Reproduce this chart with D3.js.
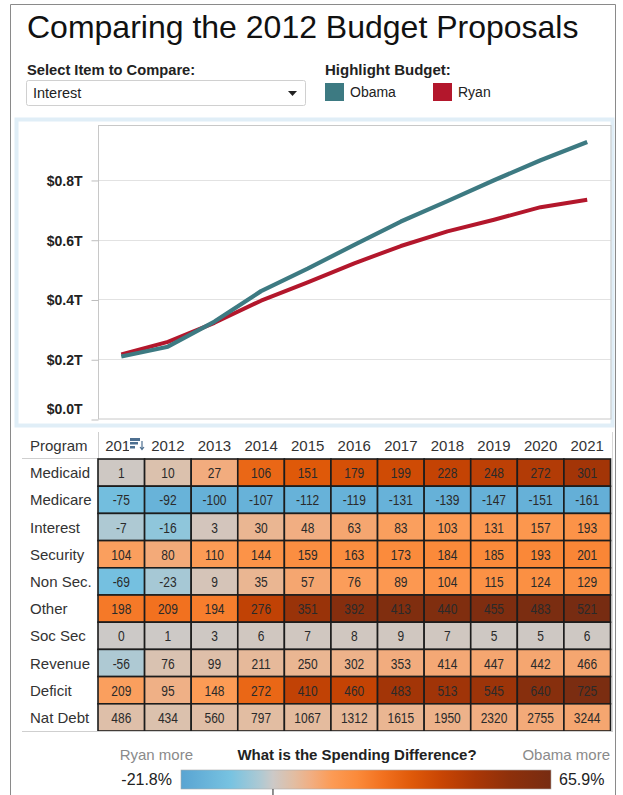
<!DOCTYPE html>
<html>
<head>
<meta charset="utf-8">
<script src="https://cdn.jsdelivr.net/npm/d3@7"></script>
<style>
  body { margin: 0; background: #fff; }
  svg { display: block; font-family: "Liberation Sans", Arial, sans-serif; }
</style>
</head>
<body>
<svg id="svg" width="623" height="795"></svg>
<script>
// data
var years = ["2011", "2012", "2013", "2014", "2015", "2016", "2017", "2018", "2019", "2020", "2021"];
var obama = [0.209, 0.242, 0.326, 0.428, 0.503, 0.583, 0.661, 0.729, 0.799, 0.866, 0.927];
var ryan = [0.216, 0.258, 0.322, 0.396, 0.457, 0.521, 0.579, 0.628, 0.667, 0.709, 0.734];
var yTicks = [0, 0.2, 0.4, 0.6, 0.8];

var programs = ["Medicaid", "Medicare", "Interest", "Security", "Non Sec.", "Other", "Soc Sec", "Revenue", "Deficit", "Nat Debt"];
var diffs = [
  [1, 10, 27, 106, 151, 179, 199, 228, 248, 272, 301],
  [-75, -92, -100, -107, -112, -119, -131, -139, -147, -151, -161],
  [-7, -16, 3, 30, 48, 63, 83, 103, 131, 157, 193],
  [104, 80, 110, 144, 159, 163, 173, 184, 185, 193, 201],
  [-69, -23, 9, 35, 57, 76, 89, 104, 115, 124, 129],
  [198, 209, 194, 276, 351, 392, 413, 440, 455, 483, 521],
  [0, 1, 3, 6, 7, 8, 9, 7, 5, 5, 6],
  [-56, 76, 99, 211, 250, 302, 353, 414, 447, 442, 466],
  [209, 95, 148, 272, 410, 460, 483, 513, 545, 640, 725],
  [486, 434, 560, 797, 1067, 1312, 1615, 1950, 2320, 2755, 3244]
];
// percent difference
var pcts = [
  [0.5, 3.5, 9.5, 29, 33, 36, 38, 41, 43, 46, 50],
  [-12, -16, -17, -16.5, -16.5, -16.5, -16.5, -17, -17, -17, -17.5],
  [-3, -7, 1.5, 7, 9, 11, 13, 14, 15, 15.5, 17],
  [13, 10, 14, 17, 18.5, 19, 19.5, 20, 20, 20.5, 21],
  [-11, -4, 2, 7, 11, 13.5, 15, 17, 17.5, 18, 18],
  [24, 26, 23, 42, 53, 60, 62, 62, 63, 64, 65.9],
  [0, 0.2, 0.5, 1, 1, 1, 1, 1, 0.5, 0.5, 0.5],
  [-3, 3, 4, 6, 7, 8, 9.5, 10.5, 11, 11, 11],
  [13, 8.5, 14, 29, 42, 41, 50, 51, 52, 59, 64],
  [4, 3.5, 4.5, 5, 5.5, 6, 7, 8, 9, 10, 11]
];
var pctMin = -21.8, pctMax = 65.9;

var svg = d3.select("#svg");

// outer frame
svg.append("path")
  .attr("d", "M10.5,795 V4.5 H615.5 V795")
  .attr("fill", "none").attr("stroke", "#8a8a8a");

// title
svg.append("text").attr("x", 27).attr("y", 38)
  .attr("font-size", 32).attr("fill", "#111")
  .text("Comparing the 2012 Budget Proposals");

// dropdown
svg.append("text").attr("x", 27).attr("y", 75)
  .attr("font-size", 15).attr("font-weight", "bold").attr("fill", "#222")
  .attr("transform", "translate(27,0) scale(0.98,1) translate(-27,0)")
  .text("Select Item to Compare:");
svg.append("rect").attr("x", 26.5).attr("y", 80.5).attr("width", 279).attr("height", 25)
  .attr("rx", 2).attr("fill", "#fff").attr("stroke", "#d0d0d0");
svg.append("text").attr("x", 33).attr("y", 98)
  .attr("font-size", 14.5).attr("fill", "#222").text("Interest");
svg.append("path").attr("d", "M288,91 h9 l-4.5,5 z").attr("fill", "#222");

// highlight legend
svg.append("text").attr("x", 325).attr("y", 75)
  .attr("font-size", 15).attr("font-weight", "bold").attr("fill", "#222")
  .text("Highlight Budget:");
var budgets = [
  { name: "Obama", color: "#3d7a82", x: 325 },
  { name: "Ryan", color: "#b3172c", x: 433 }
];
var bl = svg.selectAll(".bud").data(budgets).enter().append("g")
  .attr("transform", function (d) { return "translate(" + d.x + ",83)"; });
bl.append("rect").attr("width", 19).attr("height", 18).attr("fill", function (d) { return d.color; });
bl.append("text").attr("x", 25).attr("y", 14).attr("font-size", 14).attr("fill", "#222")
  .text(function (d) { return d.name; });

// chart panel
svg.append("rect").attr("x", 16.5).attr("y", 119.5).attr("width", 596).attr("height", 306)
  .attr("fill", "#fff").attr("stroke", "#e0eef7").attr("stroke-width", 4);

var xBand = d3.scaleBand().domain(years).range([98, 610.5]);
var yScale = d3.scaleLinear().domain([0, 0.984]).range([419, 125]);

// gridlines
svg.append("g").selectAll("line").data(yTicks.slice(1)).enter().append("line")
  .attr("x1", 98).attr("x2", 611)
  .attr("y1", function (d) { return Math.round(yScale(d)) + 0.5; })
  .attr("y2", function (d) { return Math.round(yScale(d)) + 0.5; })
  .attr("stroke", "#e2e2e2");

// plot frame
svg.append("rect").attr("x", 98.5).attr("y", 125.5).attr("width", 512.5).attr("height", 293.5)
  .attr("fill", "none").attr("stroke", "#c8c8c8");

// y axis
var yAxis = svg.append("g")
  .attr("transform", "translate(98.5,0.5)")
  .call(d3.axisLeft(yScale).tickValues(yTicks).tickSize(7).tickPadding(9)
    .tickFormat(function (d) { return "$" + d.toFixed(1) + "T"; }));
yAxis.select(".domain").remove();
yAxis.selectAll(".tick line").attr("stroke", "#bdbdbd");
yAxis.selectAll(".tick text")
  .attr("font-family", "'Liberation Sans', Arial, sans-serif")
  .attr("font-size", 14).attr("font-weight", "bold").attr("fill", "#222")
  .attr("dy", function (d) { return d === 0 ? "-0.4em" : "0.35em"; });

// lines
var lineGen = d3.line()
  .x(function (d, i) { return xBand(years[i]) + xBand.bandwidth() / 2; })
  .y(function (d) { return yScale(d); });
svg.append("path").datum(ryan).attr("d", lineGen)
  .attr("fill", "none").attr("stroke", "#b3172c").attr("stroke-width", 4).attr("stroke-linejoin", "round");
svg.append("path").datum(obama).attr("d", lineGen)
  .attr("fill", "none").attr("stroke", "#3d7a82").attr("stroke-width", 4.2).attr("stroke-linejoin", "round");

// table
var rowTop = 459, rowH = 27.2;
var yRow = d3.scaleBand().domain(programs).range([rowTop, rowTop + rowH * programs.length]);

var color = d3.scaleLinear()
  .domain([-21.8, -10, -3, 0, 5, 9, 14, 20, 26, 33, 40, 48, 56, 65.9])
  .range(["#59a4d2", "#78c3e1", "#aec9d3", "#ccc9c7", "#e2bda2", "#f1ae82", "#fc9b55", "#fb8a3a",
          "#f2711f", "#df5909", "#c84504", "#aa3706", "#8e300b", "#772c12"])
  .clamp(true);

// header
svg.append("text").attr("x", 30).attr("y", 451).attr("font-size", 15).attr("fill", "#333").text("Program");
svg.append("g").selectAll("text").data(years).enter().append("text")
  .attr("x", function (d) { return xBand(d) + xBand.bandwidth() / 2; })
  .attr("y", 451).attr("text-anchor", "middle").attr("font-size", 15).attr("fill", "#333")
  .text(function (d) { return d; });
// sort icon over first year
var icon = svg.append("g").attr("transform", "translate(130,438)");
icon.append("rect").attr("x", -1).attr("y", -3).attr("width", 17).attr("height", 17).attr("fill", "#fff");
icon.append("rect").attr("width", 10).attr("height", 3).attr("fill", "#4d6f90");
icon.append("rect").attr("y", 4).attr("width", 8).attr("height", 2.5).attr("fill", "#4d6f90");
icon.append("rect").attr("y", 8).attr("width", 5).attr("height", 2.5).attr("fill", "#4d6f90");
icon.append("path").attr("d", "M12,3 v8 M10,9 l2,2.5 l2,-2.5").attr("stroke", "#4d6f90").attr("fill", "none").attr("stroke-width", 1.2);

svg.append("line").attr("x1", 98.5).attr("x2", 98.5).attr("y1", 432).attr("y2", 459).attr("stroke", "#cfcfcf");
svg.append("line").attr("x1", 22).attr("x2", 98).attr("y1", 458.5).attr("y2", 458.5).attr("stroke", "#cfcfcf");

// row labels
svg.append("g").selectAll("text").data(programs).enter().append("text")
  .attr("x", 30).attr("y", function (d) { return yRow(d) + yRow.bandwidth() / 2 + 5.5; })
  .attr("font-size", 15).attr("fill", "#333")
  .text(function (d) { return d; });

// cells
var cells = [];
programs.forEach(function (p, r) {
  years.forEach(function (yr, c) {
    cells.push({ program: p, year: yr, value: diffs[r][c], pct: pcts[r][c] });
  });
});
var cg = svg.append("g").selectAll("g").data(cells).enter().append("g");
cg.append("rect")
  .attr("x", function (d) { return xBand(d.year); })
  .attr("y", function (d) { return yRow(d.program); })
  .attr("width", xBand.bandwidth()).attr("height", yRow.bandwidth())
  .attr("fill", function (d) { return color(d.pct); })
  .attr("stroke", "#1c1c1c").attr("stroke-width", 1.6);
// narrow digits, as in the original
cg.append("text")
  .attr("transform", function (d) {
    return "translate(" + (xBand(d.year) + xBand.bandwidth() / 2) + "," + (yRow(d.program) + yRow.bandwidth() / 2 + 5.5) + ") scale(0.8,1)";
  })
  .attr("text-anchor", "middle").attr("font-size", 15).attr("fill", "#2a2a2a")
  .text(function (d) { return d.value; });

svg.append("line").attr("x1", 22).attr("x2", 613).attr("y1", 731.5).attr("y2", 731.5).attr("stroke", "#cfcfcf");
svg.append("line").attr("x1", 612.5).attr("x2", 612.5).attr("y1", 432).attr("y2", 731).attr("stroke", "#d8d8d8");

// colour legend
var lx = d3.scaleLinear().domain([pctMin, pctMax]).range([181, 551]);
var defs = svg.append("defs");
var grad = defs.append("linearGradient").attr("id", "grad");
color.domain().forEach(function (v, i) {
  grad.append("stop").attr("offset", ((v - pctMin) / (pctMax - pctMin) * 100) + "%")
    .attr("stop-color", color.range()[i]);
});
svg.append("rect").attr("x", lx(pctMin)).attr("y", 770).attr("width", lx(pctMax) - lx(pctMin)).attr("height", 19)
  .attr("fill", "url(#grad)").attr("stroke", "#aaa").attr("stroke-width", 0.6);
svg.append("line").attr("x1", lx(0)).attr("x2", lx(0)).attr("y1", 789).attr("y2", 795).attr("stroke", "#222");

svg.append("text").attr("x", 193).attr("y", 760).attr("text-anchor", "end")
  .attr("font-size", 15).attr("fill", "#8a8a8a").text("Ryan more");
svg.append("text").attr("x", 610).attr("y", 760).attr("text-anchor", "end")
  .attr("font-size", 15).attr("fill", "#8a8a8a").text("Obama more");
svg.append("text").attr("x", 357).attr("y", 760).attr("text-anchor", "middle")
  .attr("font-size", 15).attr("font-weight", "bold").attr("fill", "#222").text("What is the Spending Difference?");
svg.append("text").attr("x", 172).attr("y", 785).attr("text-anchor", "end")
  .attr("font-size", 16).attr("fill", "#222").text(pctMin.toFixed(1) + "%");
svg.append("text").attr("x", 559).attr("y", 785)
  .attr("font-size", 16).attr("fill", "#222").text(pctMax.toFixed(1) + "%");
</script>
</body>
</html>
